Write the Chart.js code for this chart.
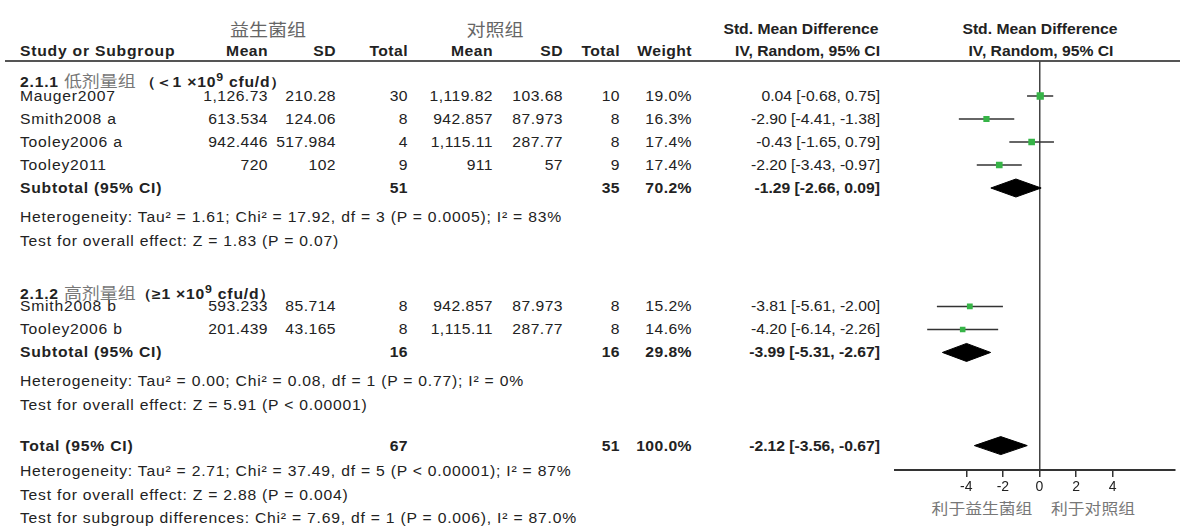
<!DOCTYPE html>
<html>
<head>
<meta charset="utf-8">
<script src="https://cdn.jsdelivr.net/npm/chart.js@4.4.1/dist/chart.umd.min.js"></script>
<style>
html, body { margin: 0; padding: 0; background: #fff; }
#wrap { position: relative; width: 1180px; height: 529px; overflow: hidden; background: #fff; }
#txt { position: absolute; left: 0; top: 0; height: 529px; transform-origin: 0 0; }
#txt > span { position: absolute; white-space: nowrap; font: 14px "Liberation Sans", Arial, sans-serif; color: #222; line-height: 16px; }
#txt > span.l { letter-spacing: 0.7px; }
#txt > span.n { letter-spacing: 0.4px; }
#txt .b { font-weight: bold; }
#txt .cn { font-family: "Noto Sans CJK SC", sans-serif; color: #777; font-weight: normal; font-style: normal; letter-spacing: 0; }
#txt i.cn { font-size: 16px; }
#txt > span.hd { font-size: 17px; color: #666; }
#txt > span.fv { font-size: 15px; }
#txt sup { font-size: 11px; line-height: 0; }
#rule { position: absolute; left: 5px; right: 0; top: 60px; height: 2px; background: #555; }
#plot { position: absolute; left: 880px; top: 0; }
</style>
</head>
<body>
<div id="wrap">
  <div id="txt"></div>
  <div id="rule"></div>
  <canvas id="plot" width="300" height="529"></canvas>
</div>
<script>
"use strict"

// picture is stretched sideways a bit
const SX = 1.12;

const studies = ["Mauger2007", "Smith2008 a", "Tooley2006 a", "Tooley2011", "Smith2008 b", "Tooley2006 b"];
const expMean = ["1,126.73", "613.534", "942.446", "720", "593.233", "201.439"];
const expSD = ["210.28", "124.06", "517.984", "102", "85.714", "43.165"];
const expN = [30, 8, 4, 9, 8, 8];
const ctrlMean = ["1,119.82", "942.857", "1,115.11", "911", "942.857", "1,115.11"];
const ctrlSD = ["103.68", "87.973", "287.77", "57", "87.973", "287.77"];
const ctrlN = [10, 8, 8, 9, 8, 8];
const weight = [19.0, 16.3, 17.4, 17.4, 15.2, 14.6];
const smd = [0.04, -2.90, -0.43, -2.20, -3.81, -4.20];
const ciLow = [-0.68, -4.41, -1.65, -3.43, -5.61, -6.14];
const ciHigh = [0.75, -1.38, 0.79, -0.97, -2.00, -2.26];
const studyRow = [1, 2, 3, 4, 10.15, 11.15];

const poolNames = ["Subtotal (95% CI)", "Subtotal (95% CI)", "Total (95% CI)"];
const poolExpN = [51, 16, 67];
const poolCtrlN = [35, 16, 51];
const poolWeight = [70.2, 29.8, 100.0];
const poolSmd = [-1.29, -3.99, -2.12];
const poolLow = [-2.66, -5.31, -3.56];
const poolHigh = [0.09, -2.67, -0.67];
const poolRow = [5, 12.15, 16.2];

const groupTitles = [
    '2.1.1 <i class="cn">低剂量组 </i>（＜1 ×10<sup>9</sup> cfu/d）',
    '2.1.2 <i class="cn">高剂量组</i>（≥1 ×10<sup>9</sup> cfu/d）'
];
const groupRow = [0.3, 9.5];

const notes = [
    "Heterogeneity: Tau² = 1.61; Chi² = 17.92, df = 3 (P = 0.0005); I² = 83%",
    "Test for overall effect: Z = 1.83 (P = 0.07)",
    "Heterogeneity: Tau² = 0.00; Chi² = 0.08, df = 1 (P = 0.77); I² = 0%",
    "Test for overall effect: Z = 5.91 (P &lt; 0.00001)",
    "Heterogeneity: Tau² = 2.71; Chi² = 37.49, df = 5 (P &lt; 0.00001); I² = 87%",
    "Test for overall effect: Z = 2.88 (P = 0.004)",
    "Test for subgroup differences: Chi² = 7.69, df = 1 (P = 0.006), I² = 87.0%"
];
const noteRow = [6.25, 7.3, 13.4, 14.45, 17.3, 18.35, 19.35];

const xTicks = [-4, -2, 0, 2, 4];
const favours = ["利于益生菌组", "利于对照组"];

// layout in page pixels
const TOP = 61, AXIS = 470, ROW1 = 96, ROWH = 23;
function rowY(r) {
    return ROW1 + (r - 1) * ROWH;
}

const txt = document.getElementById("txt");
txt.style.width = (1180 / SX) + "px";
txt.style.transform = "scaleX(" + SX + ")";

// align: "left", "right" (spaced), "rightplain", "center"
function put(html, x, y, align, cls) {
    const s = document.createElement("span");
    s.innerHTML = html;
    let c = cls || "";
    if (align === "left") c += " l";
    if (align === "right") c += " n";
    s.className = c;
    s.style.top = (y - 8) + "px";
    if (align === "right" || align === "rightplain") {
        s.style.right = ((1180 - x) / SX) + "px";
    } else if (align === "center") {
        s.style.left = (x / SX) + "px";
        s.style.transform = "translateX(-50%)";
    } else {
        s.style.left = (x / SX) + "px";
    }
    txt.appendChild(s);
}

function ci(m, lo, hi) {
    return m.toFixed(2) + " [" + lo.toFixed(2) + ", " + hi.toFixed(2) + "]";
}

// header
put("益生菌组", 268, 29, "center", "cn hd");
put("对照组", 495, 29, "center", "cn hd");
put("Std. Mean Difference", 801, 29, "center", "b");
put("Std. Mean Difference", 1040, 29, "center", "b");
put("Study or Subgroup", 20, 51, "left", "b");
put("Mean", 268, 51, "right", "b");
put("SD", 336, 51, "right", "b");
put("Total", 408, 51, "right", "b");
put("Mean", 493, 51, "right", "b");
put("SD", 563, 51, "right", "b");
put("Total", 620, 51, "right", "b");
put("Weight", 692, 51, "right", "b");
put("IV, Random, 95% CI", 880, 51, "rightplain", "b");
put("IV, Random, 95% CI", 1041, 51, "center", "b");

for (let i = 0; i < groupTitles.length; i++) {
    put(groupTitles[i], 20, rowY(groupRow[i]), "left", "b");
}

for (let i = 0; i < studies.length; i++) {
    const y = rowY(studyRow[i]);
    put(studies[i], 20, y, "left");
    put(expMean[i], 268, y, "right");
    put(expSD[i], 336, y, "right");
    put(expN[i], 408, y, "right");
    put(ctrlMean[i], 493, y, "right");
    put(ctrlSD[i], 563, y, "right");
    put(ctrlN[i], 620, y, "right");
    put(weight[i].toFixed(1) + "%", 692, y, "right");
    put(ci(smd[i], ciLow[i], ciHigh[i]), 880, y, "rightplain");
}

for (let i = 0; i < poolNames.length; i++) {
    const y = rowY(poolRow[i]);
    put(poolNames[i], 20, y, "left", "b");
    put(poolExpN[i], 408, y, "right", "b");
    put(poolCtrlN[i], 620, y, "right", "b");
    put(poolWeight[i].toFixed(1) + "%", 692, y, "right", "b");
    put(ci(poolSmd[i], poolLow[i], poolHigh[i]), 880, y, "rightplain", "b");
}

for (let i = 0; i < notes.length; i++) {
    put(notes[i], 20, rowY(noteRow[i]), "left");
}

put(favours[0], 982, 508, "center", "cn fv");
put(favours[1], 1093, 508, "center", "cn fv");

// forest plot
const datasets = [];

datasets.push({
    type: "scatter",
    order: 0,
    data: studies.map((s, i) => ({ x: smd[i], y: studyRow[i] })),
    pointStyle: "rect",
    pointRadius: weight.map(w => w * 0.27),
    backgroundColor: "#36b447",
    borderWidth: 0
});

for (let i = 0; i < studies.length; i++) {
    datasets.push({
        type: "line",
        order: 1,
        data: [{ x: ciLow[i], y: studyRow[i] }, { x: ciHigh[i], y: studyRow[i] }],
        borderColor: "#333",
        borderWidth: 1.5,
        pointRadius: 0,
        fill: false
    });
}

const half = 9 / ROWH;
for (let i = 0; i < poolSmd.length; i++) {
    const r = poolRow[i];
    datasets.push({
        type: "line",
        order: 1,
        data: [
            { x: poolLow[i], y: r },
            { x: poolSmd[i], y: r - half },
            { x: poolHigh[i], y: r },
            { x: poolSmd[i], y: r + half },
            { x: poolLow[i], y: r }
        ],
        borderColor: "#000",
        backgroundColor: "#000",
        borderWidth: 1,
        pointRadius: 0,
        tension: 0,
        fill: "shape"
    });
}

new Chart(document.getElementById("plot"), {
    type: "scatter",
    data: { datasets: datasets },
    options: {
        responsive: false,
        animation: false,
        layout: { padding: { left: 15, right: 3, top: TOP, bottom: 0 } },
        plugins: { legend: { display: false }, tooltip: { enabled: false } },
        scales: {
            x: {
                type: "linear",
                min: -7.9,
                max: 7.4,
                afterBuildTicks: s => { s.ticks = xTicks.map(v => ({ value: v })); },
                afterFit: s => { s.height = 529 - AXIS; },
                grid: {
                    color: c => (c.tick && c.tick.value === 0) ? "#444" : "rgba(0,0,0,0)",
                    lineWidth: 1.5,
                    tickColor: "#333",
                    tickLength: 7
                },
                border: { color: "#333", width: 2 },
                ticks: {
                    color: "#222",
                    padding: 2,
                    maxRotation: 0,
                    font: { size: 14, family: "Liberation Sans" }
                }
            },
            y: {
                type: "linear",
                display: false,
                reverse: true,
                min: 1 - (ROW1 - TOP) / ROWH,
                max: 1 + (AXIS - ROW1) / ROWH
            }
        }
    }
});
</script>
</body>
</html>
